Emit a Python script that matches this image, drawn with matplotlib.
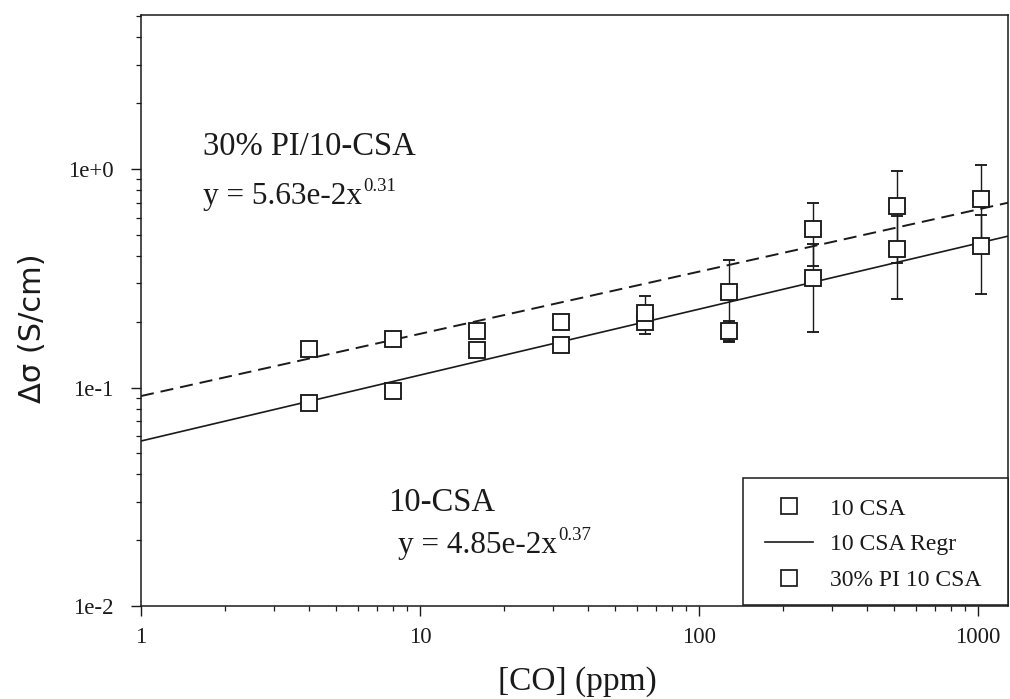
import numpy as np
import matplotlib
matplotlib.use("Agg")
import matplotlib.pyplot as plt
from matplotlib.lines import Line2D
from matplotlib.patches import Rectangle
from matplotlib.ticker import FixedLocator, NullFormatter

# ---------------- data ----------------
co_ppm = [4, 8, 16, 32, 64, 128, 256, 512, 1024]
csa10 = [0.085, 0.096, 0.148, 0.157, 0.200, 0.181, 0.317, 0.430, 0.444]
csa10_err = [0.0, 0.0, 0.0, 0.0, 0.012, 0.02, 0.138, 0.177, 0.175]
pi30 = [0.150, 0.167, 0.181, 0.200, 0.219, 0.273, 0.531, 0.677, 0.729]
pi30_err = [0.0, 0.0, 0.0, 0.0, 0.044, 0.11, 0.17, 0.305, 0.314]

# regression lines (end points)
regr_x = [1, 1281]
regr_csa10 = [0.0569, 0.493]
regr_pi30 = [0.0914, 0.701]

xticks = [1, 10, 100, 1000]
xticklabels = ["1", "10", "100", "1000"]
yticks = [0.01, 0.1, 1.0]
yticklabels = ["1e-2", "1e-1", "1e+0"]
legend_labels = ["10 CSA", "10 CSA Regr", "30% PI 10 CSA"]

W, H = 1010, 699
plt.rcParams["font.family"] = ["Liberation Serif", "DejaVu Serif"]
plt.rcParams["lines.scale_dashes"] = False

fig = plt.figure(figsize=(W / 100, H / 100), dpi=100)
ax = fig.add_axes([141 / W, 1 - 606 / H, (1008 - 141) / W, (606 - 15) / H])
ax.set_xscale("log")
ax.set_yscale("log")
ax.set_xlim(1, 1281)
ax.set_ylim(0.01, 5.07)

ink = "#1a1a1a"

ax.plot(regr_x, regr_csa10, color=ink, lw=1.2, zorder=2)
ax.plot(regr_x, regr_pi30, color=ink, lw=1.4, dashes=(9.4, 5.0), zorder=2)

common = dict(fmt="s", ms=11.5, mfc="white", mec=ink, mew=1.35, ecolor=ink,
              elinewidth=1.0, capsize=4.5, capthick=1.0, zorder=3)
ax.errorbar(co_ppm, csa10, yerr=csa10_err, **common)
ax.errorbar(co_ppm, pi30, yerr=pi30_err, **common)

ax.xaxis.set_major_locator(FixedLocator(xticks))
ax.set_xticklabels(xticklabels)
ax.yaxis.set_major_locator(FixedLocator(yticks))
ax.set_yticklabels(yticklabels)
minor_x = [m * 10 ** d for d in range(0, 4) for m in range(2, 10) if m * 10 ** d < 1281]
minor_y = [m * 10.0 ** d for d in range(-2, 1) for m in range(2, 10) if m * 10.0 ** d < 5.07]
ax.xaxis.set_minor_locator(FixedLocator(minor_x))
ax.yaxis.set_minor_locator(FixedLocator(minor_y))
ax.xaxis.set_minor_formatter(NullFormatter())
ax.yaxis.set_minor_formatter(NullFormatter())
ax.tick_params(which="major", length=7, width=1.0, color=ink, labelsize=16.5,
               labelcolor=ink, direction="out", top=False, right=False)
ax.tick_params(which="minor", length=3.5, width=0.9, color=ink, direction="out",
               top=False, right=False)
ax.tick_params(axis="x", which="major", pad=8)
ax.tick_params(axis="y", which="major", pad=13)
for s in ax.spines.values():
    s.set_color(ink)
    s.set_linewidth(1.1)

fig.text(577 / W, 1 - 682 / H, "[CO] (ppm)", ha="center", va="center",
         fontsize=24, color=ink)
fig.text(33 / W, 1 - 328 / H, "\u0394\u03c3 (S/cm)", ha="center", va="center",
         rotation=90, fontsize=22, color=ink, family=["DejaVu Sans"])

renderer = fig.canvas.get_renderer()


def power_label(x_px, base_px, main, sup, size=22.5, sup_size=13.5, rise=13):
    t = fig.text(x_px / W, 1 - base_px / H, main, ha="left", va="baseline",
                 fontsize=size, color=ink)
    bb = t.get_window_extent(renderer=renderer)
    fig.text((bb.x1 + 1) / W, 1 - (base_px - rise) / H, sup, ha="left",
             va="baseline", fontsize=sup_size, color=ink)


fig.text(203 / W, 1 - 155 / H, "30% PI/10-CSA", ha="left", va="baseline",
         fontsize=23.5, color=ink)
power_label(203, 204, "y = 5.63e-2x", "0.31")
fig.text(388 / W, 1 - 511 / H, "10-CSA", ha="left", va="baseline",
         fontsize=23.5, color=ink)
power_label(398, 553, "y = 4.85e-2x", "0.37")

# legend: frame drawn as its own box, entries placed inside
box = Rectangle((743 / W, 1 - 605 / H), 265 / W, 127 / H, transform=fig.transFigure,
                facecolor="white", edgecolor=ink, lw=1.1, zorder=4, clip_on=False)
ax.add_patch(box)
handles = [
    Line2D([], [], ls="none", marker="s", ms=11, mfc="white", mec=ink, mew=1.25),
    Line2D([], [], color=ink, lw=1.2),
    Line2D([], [], ls="none", marker="s", ms=11, mfc="white", mec=ink, mew=1.25),
]
leg = ax.legend(handles, legend_labels, loc="upper left",
                bbox_to_anchor=(765 / W, 1 - 498 / H), bbox_transform=fig.transFigure,
                borderaxespad=0, borderpad=0, fontsize=17, frameon=False,
                handlelength=2.05, handletextpad=0.72, labelspacing=0.6)
leg.set_zorder(5)
for t in leg.get_texts():
    t.set_color(ink)

fig.savefig("out.png", dpi=100)
